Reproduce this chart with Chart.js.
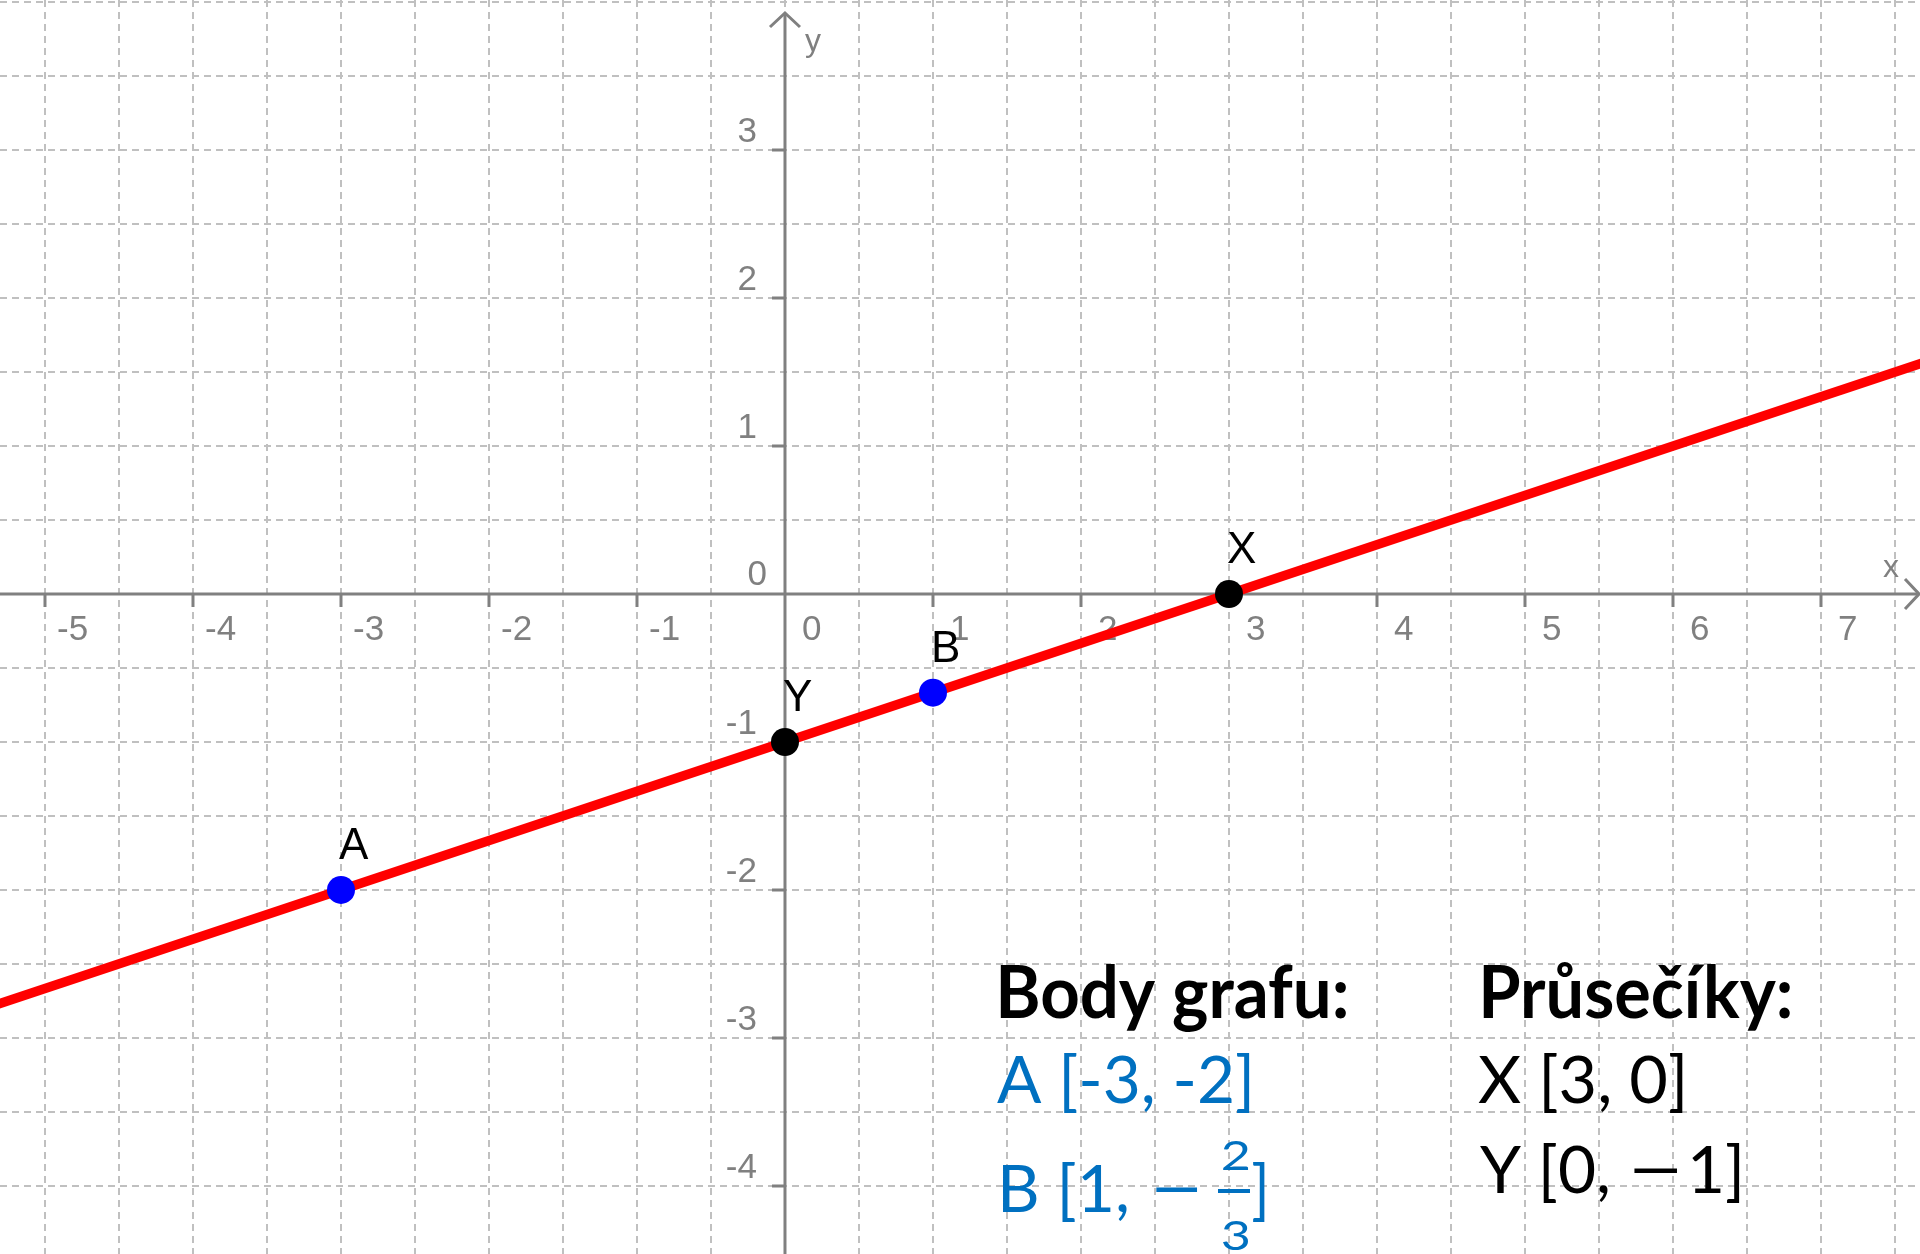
<!DOCTYPE html>
<html lang="cs">
<head>
<meta charset="utf-8">
<title>Graf lineární funkce</title>
<script src="https://cdn.jsdelivr.net/npm/chart.js@4.4.0/dist/chart.umd.min.js"></script>
<style>
  html, body { margin: 0; padding: 0; background: #fff; }
  #wrap { width: 1920px; height: 1254px; position: relative; }
</style>
</head>
<body>
<div id="wrap"><canvas id="graf"></canvas></div>
<script>
// Body grafu
const bodyNames = ["A", "B"];
const bodyX = [-3, 1];
const bodyY = [-2, -2 / 3];

// Průsečíky s osami
const prusecikNames = ["X", "Y"];
const prusecikX = [3, 0];
const prusecikY = [0, -1];

// přímka - koncové body leží mimo viditelnou oblast
const lineX = [-5.4, 7.8];
const lineY = [-2.8, 1.6];

// popisky os
const xTicks = [-5, -4, -3, -2, -1, 0, 1, 2, 3, 4, 5, 6, 7];
const yTicks = [-4, -3, -2, -1, 0, 1, 2, 3];

// viditelný rozsah
const xMin = -5.304, xMax = 7.669;
const yMin = -4.46, yMax = 4.014;

const GRAY = "#808080";
const BLUE_TEXT = "#0070c0";

// mřížka po 0.5
const halfSteps = (min, max) => {
  const out = [];
  for (let v = Math.ceil(min * 2) / 2; v <= max; v += 0.5) out.push({ value: v });
  return out;
};

// text zúžený/roztažený na danou šířku (podle inkoustu)
const fitText = (ctx, text, left, baseline, width, font, color) => {
  ctx.save();
  ctx.font = font;
  ctx.fillStyle = color;
  ctx.textAlign = "left";
  ctx.textBaseline = "alphabetic";
  const m = ctx.measureText(text);
  const ink = m.actualBoundingBoxLeft + m.actualBoundingBoxRight;
  const k = width / ink;
  ctx.translate(left + m.actualBoundingBoxLeft * k, baseline);
  ctx.scale(k, 1);
  ctx.fillText(text, 0, 0);
  ctx.restore();
};

const osyPlugin = {
  id: "osy",
  beforeDatasetsDraw(chart) {
    const { ctx, chartArea } = chart;
    const sx = chart.scales.x, sy = chart.scales.y;
    const x0 = sx.getPixelForValue(0), y0 = sy.getPixelForValue(0);
    ctx.save();
    ctx.strokeStyle = GRAY;
    ctx.lineWidth = 3;
    ctx.lineCap = "butt";

    // osy
    ctx.beginPath();
    ctx.moveTo(chartArea.left, y0);
    ctx.lineTo(chartArea.right - 1, y0);
    ctx.moveTo(x0, chartArea.bottom);
    ctx.lineTo(x0, chartArea.top + 13);
    ctx.stroke();

    // šipky
    ctx.beginPath();
    ctx.moveTo(x0 - 15, chartArea.top + 27);
    ctx.lineTo(x0, chartArea.top + 13);
    ctx.lineTo(x0 + 15, chartArea.top + 27);
    ctx.moveTo(chartArea.right - 15, y0 - 15);
    ctx.lineTo(chartArea.right - 1, y0);
    ctx.lineTo(chartArea.right - 15, y0 + 15);
    ctx.stroke();

    // čárky na osách
    ctx.beginPath();
    xTicks.forEach(v => {
      if (v === 0) return;
      const px = sx.getPixelForValue(v);
      ctx.moveTo(px, y0);
      ctx.lineTo(px, y0 + 13);
    });
    yTicks.forEach(v => {
      if (v === 0) return;
      const py = sy.getPixelForValue(v);
      ctx.moveTo(x0, py);
      ctx.lineTo(x0 - 13, py);
    });
    ctx.stroke();

    // popisky
    ctx.fillStyle = GRAY;
    ctx.font = "35px 'Liberation Sans'";
    ctx.textBaseline = "alphabetic";
    ctx.textAlign = "left";
    xTicks.forEach(v => {
      const px = sx.getPixelForValue(v);
      ctx.fillText(String(v), px + (v < 0 ? 12 : 17), y0 + 46);
    });
    ctx.textAlign = "right";
    yTicks.forEach(v => {
      const py = sy.getPixelForValue(v);
      if (v === 0) ctx.fillText("0", x0 - 18, py - 9);
      else ctx.fillText(String(v), x0 - 28, py - 8);
    });

    // názvy os
    ctx.textAlign = "left";
    ctx.font = "32px 'Liberation Sans'";
    ctx.fillText("y", x0 + 20, chartArea.top + 51);
    ctx.fillText("x", chartArea.right - 37, y0 - 17);
    ctx.restore();
  },
  afterDatasetsDraw(chart) {
    const { ctx } = chart;
    const sx = chart.scales.x, sy = chart.scales.y;
    ctx.save();

    // jména bodů
    ctx.fillStyle = "#000";
    ctx.font = "44px 'Liberation Sans'";
    ctx.textAlign = "left";
    const names = bodyNames.concat(prusecikNames);
    const xs = bodyX.concat(prusecikX);
    const ys = bodyY.concat(prusecikY);
    names.forEach((n, i) => {
      const px = sx.getPixelForValue(xs[i]);
      const py = sy.getPixelForValue(ys[i]);
      ctx.fillText(n, px - 2, py - 31);
    });
    ctx.restore();

    // tabulka vpravo dole
    const fontB = "bold 72px Lato";
    const fontR = "66px Lato";
    fitText(ctx, "Body grafu:", 1000, 1018, 346, fontB, "#000");
    fitText(ctx, "Průsečíky:", 1483, 1018, 307, fontB, "#000");

    fitText(ctx, "A [-3, -2]", 997, 1103, 253, fontR, BLUE_TEXT);

    fitText(ctx, "B [1,", 1003, 1212, 124, fontR, BLUE_TEXT);
    fitText(ctx, "\u2212", 1155, 1212, 43, fontR, BLUE_TEXT);
    fitText(ctx, "2", 1222, 1170, 26, "40px Lato", BLUE_TEXT);
    fitText(ctx, "3", 1222, 1250, 26, "40px Lato", BLUE_TEXT);
    ctx.save();
    ctx.fillStyle = BLUE_TEXT;
    ctx.fillRect(1218, 1189, 32, 4);
    ctx.restore();
    fitText(ctx, "]", 1253, 1212, 12, fontR, BLUE_TEXT);

    fitText(ctx, "X [3, 0]", 1478, 1103, 205, fontR, "#000");
    fitText(ctx, "Y [0,", 1480, 1193, 128, fontR, "#000");
    fitText(ctx, "\u2212", 1633, 1193, 45, fontR, "#000");
    fitText(ctx, "1]", 1692, 1193, 48, fontR, "#000");
  }
};

new Chart(document.getElementById("graf"), {
  type: "scatter",
  data: {
    datasets: [
      {
        label: "přímka",
        data: lineX.map((v, i) => ({ x: v, y: lineY[i] })),
        showLine: true,
        borderColor: "#ff0000",
        borderWidth: 9.5,
        pointRadius: 0,
        order: 2,
      },
      {
        label: "Body grafu",
        data: bodyX.map((v, i) => ({ x: v, y: bodyY[i] })),
        backgroundColor: "#0000ff",
        borderWidth: 0,
        pointRadius: 14,
        order: 1,
      },
      {
        label: "Průsečíky",
        data: prusecikX.map((v, i) => ({ x: v, y: prusecikY[i] })),
        backgroundColor: "#000000",
        borderWidth: 0,
        pointRadius: 14,
        order: 1,
      },
    ],
  },
  options: {
    responsive: true,
    maintainAspectRatio: false,
    animation: false,
    events: [],
    layout: { padding: 0, autoPadding: false },
    plugins: {
      legend: { display: false },
      tooltip: { enabled: false },
    },
    scales: {
      x: {
        type: "linear",
        min: xMin,
        max: xMax,
        afterBuildTicks: s => { s.ticks = halfSteps(xMin, xMax); },
        ticks: { display: false },
        grid: { color: "#c0c0c0", lineWidth: 2, drawTicks: false },
        border: { display: false, dash: [7, 5] },
      },
      y: {
        type: "linear",
        min: yMin,
        max: yMax,
        afterBuildTicks: s => { s.ticks = halfSteps(yMin, yMax); },
        ticks: { display: false },
        grid: { color: "#c0c0c0", lineWidth: 2, drawTicks: false },
        border: { display: false, dash: [7, 5] },
      },
    },
  },
  plugins: [osyPlugin],
});
</script>
</body>
</html>
